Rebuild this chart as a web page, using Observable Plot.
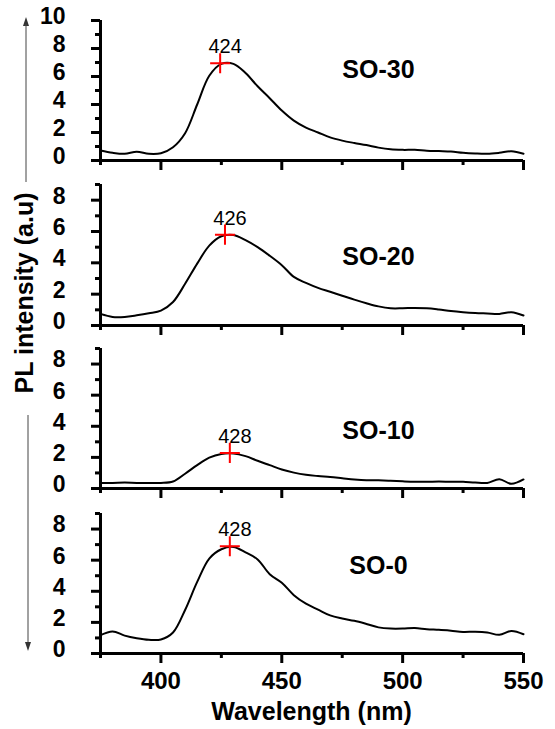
<!DOCTYPE html>
<html><head><meta charset="utf-8">
<script src="https://cdn.jsdelivr.net/npm/d3@7"></script>
<script src="https://cdn.jsdelivr.net/npm/@observablehq/plot@0.6"></script>
<style>
body{margin:0;background:#fff;}
#chart{position:relative;width:555px;height:729px;overflow:hidden;}
.xtitle{position:absolute;left:100px;width:423px;top:696px;text-align:center;font-family:"Liberation Sans",Arial,sans-serif;font-weight:bold;font-size:25px;line-height:30px;color:#000;}
</style></head><body><div id="chart"></div>
<script>
// ---- data ----
const wavelength = [375,380,385,390,395,400,405,410,415,420,425,430,435,440,445,450,455,460,465,470,475,480,485,490,495,500,505,510,515,520,525,530,535,540,545,550];
const so30 = [0.71,0.55,0.48,0.62,0.48,0.52,0.95,1.95,4.0,6.05,6.9,6.9,6.25,5.3,4.45,3.57,2.85,2.35,2.0,1.65,1.42,1.25,1.1,0.92,0.8,0.76,0.76,0.7,0.67,0.64,0.55,0.5,0.48,0.55,0.66,0.48];
const so20 = [0.74,0.55,0.55,0.65,0.78,0.95,1.5,2.66,3.95,5.1,5.7,5.78,5.45,5.0,4.45,3.85,3.1,2.72,2.4,2.15,1.9,1.65,1.42,1.22,1.1,1.1,1.12,1.1,1.02,0.92,0.85,0.8,0.77,0.74,0.85,0.64];
const so10 = [0.36,0.36,0.38,0.36,0.36,0.36,0.45,0.95,1.5,1.98,2.22,2.25,2.08,1.78,1.5,1.22,1.02,0.88,0.8,0.74,0.66,0.58,0.53,0.53,0.5,0.46,0.43,0.43,0.45,0.43,0.43,0.38,0.36,0.6,0.3,0.58];
const so0 = [1.18,1.42,1.15,0.98,0.88,0.9,1.35,2.8,4.6,6.1,6.7,6.85,6.5,6.05,5.1,4.55,3.75,3.2,2.82,2.45,2.25,2.1,1.9,1.68,1.6,1.6,1.64,1.56,1.52,1.46,1.39,1.4,1.35,1.2,1.45,1.24];
const sampleNames = ["SO-30","SO-20","SO-10","SO-0"];
const peakWavelength = [424.5,426.5,428.5,428.5];
const peakIntensity = [6.95,5.8,2.29,6.9];
const peakLabels = ["424","426","428","428"];
const yMax = [10,9,9,9];
const xMajorTicks = [400,450,500,550];
const xMinorTicks = [375,425,475,525];
const xLabel = "Wavelength (nm)";
const yLabel = "PL intensity (a.u)";

// ---- layout (pixels) ----
const panels = [
  {top: 20,  bottom: 160, labelY: 6.5},
  {top: 184, bottom: 325, labelY: 4.4},
  {top: 348, bottom: 488, labelY: 3.67},
  {top: 513, bottom: 653, labelY: 5.6}
];
const seriesList = [so30, so20, so10, so0];
const chart = document.getElementById("chart");
const font = '"Liberation Sans", Arial, sans-serif';
const W = 555, ML = 100, MR = 32;
const frameW = W - ML - MR;
const xMin = 375, xMax = 550;
const pxPerNm = frameW / (xMax - xMin);

panels.forEach((p, i) => {
  const last = i === panels.length - 1;
  const mt = 12, mb = last ? 46 : 14;
  const frameH = p.bottom - p.top;
  const rows = wavelength.map((w, j) => ({w, v: seriesList[i][j]}));
  const ymax = yMax[i];
  const pxPerUnit = frameH / ymax;
  const major = d3.range(0, ymax + 0.01, 2);
  const minor = d3.range(1, ymax + 0.01, 2);
  // outward ticks as rules whose ends come from the scales
  const yTicks = (vals, len) => Plot.ruleY(vals, {y: d => d, x1: () => xMin - len / pxPerNm, x2: () => xMin, strokeWidth: 3, stroke: "black"});
  const xTicks = (vals, len) => Plot.ruleX(vals, {x: d => d, y1: () => -len / pxPerUnit, y2: () => 0, strokeWidth: 3, stroke: "black"});
  const svg = Plot.plot({
    width: W,
    height: frameH + mt + mb,
    marginLeft: ML, marginRight: MR, marginTop: mt, marginBottom: mb,
    x: {domain: [xMin, xMax], axis: null},
    y: {domain: [0, ymax], axis: null},
    style: {background: "transparent", overflow: "visible"},
    marks: [
      yTicks(minor, 5),
      yTicks(major, 9),
      xTicks(xMinorTicks, 5),
      xTicks(xMajorTicks, 10),
      Plot.axisY({ticks: major, tickSize: 0, tickPadding: 35, fontSize: 23, fontWeight: "bold", fontFamily: font, fill: "black", dy: -4, label: null}),
      last
        ? Plot.axisX({ticks: xMajorTicks, tickSize: 0, tickPadding: 18, fontSize: 24, fontWeight: "bold", fontFamily: font, fill: "black", label: null})
        : null,
      Plot.ruleX([xMin], {strokeWidth: 3, stroke: "black"}),
      Plot.ruleY([0], {strokeWidth: 3, stroke: "black"}),
      Plot.line(rows, {x: "w", y: "v", stroke: "black", strokeWidth: 2, strokeLinejoin: "round", curve: "catmull-rom"}),
      Plot.dot([{x: peakWavelength[i], y: peakIntensity[i]}], {x: "x", y: "y", symbol: "plus", r: 6.5, stroke: "#ff0000", strokeWidth: 2}),
      Plot.text([{x: peakWavelength[i], y: peakIntensity[i], t: peakLabels[i]}], {x: "x", y: "y", text: "t", dy: -10, dx: 5, lineAnchor: "bottom", fontSize: 20, fontFamily: font, fontWeight: "normal", fill: "black"}),
      Plot.text([{x: 490, y: p.labelY, t: sampleNames[i]}], {x: "x", y: "y", text: "t", lineAnchor: "middle", fontSize: 25, fontFamily: font, fontWeight: "bold", fill: "black"})
    ]
  });
  svg.style.position = "absolute";
  svg.style.left = "0px";
  svg.style.top = (p.top - mt) + "px";
  chart.appendChild(svg);
});

// x title
const xt = document.createElement("div");
xt.className = "xtitle";
xt.textContent = xLabel;
chart.appendChild(xt);

// y title with arrows
const ns = "http://www.w3.org/2000/svg";
const ov = document.createElementNS(ns, "svg");
ov.setAttribute("width", 60); ov.setAttribute("height", 729);
ov.style.position = "absolute"; ov.style.left = "0px"; ov.style.top = "0px";
ov.innerHTML = `
<polygon points="26,17 23,26 29,26" fill="#333"/>
<line x1="26" y1="182" x2="26" y2="24" stroke="#444" stroke-width="1"/>
<line x1="28" y1="415" x2="28" y2="644" stroke="#444" stroke-width="1"/>
<polygon points="28,651 25,642 31,642" fill="#333"/>
<text transform="translate(33,293) rotate(-90)" text-anchor="middle" font-family='"Liberation Sans", Arial, sans-serif' font-weight="bold" font-size="25" fill="#000"></text>`;
ov.querySelector("text").textContent = yLabel;
chart.appendChild(ov);
</script></body></html>
